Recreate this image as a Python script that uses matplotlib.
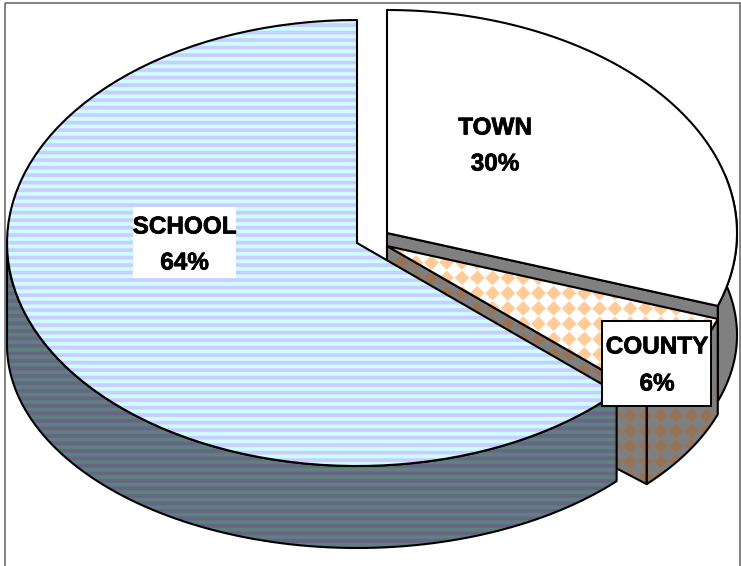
import numpy as np
import matplotlib
matplotlib.use('Agg')
import matplotlib.pyplot as plt
import matplotlib.patheffects as pe
from matplotlib.patches import Polygon, Rectangle

categories = ['SCHOOL', 'COUNTY', 'TOWN']
shares = [63.3, 6.4, 30.3]
percent_labels = ['64%', '6%', '30%']

W, H = 741, 566
RX, RY = 350, 223          # top ellipse
DROP, RY_LOW = 102, 203    # bottom ellipse, fake perspective
centers = {'SCHOOL': (357, 243), 'COUNTY': (387, 246), 'TOWN': (387, 233)}
LINE = 1.5

plt.rcParams['font.family'] = ['Liberation Sans', 'DejaVu Sans']

fig = plt.figure(figsize=(W / 100, H / 100), dpi=100)
ax = fig.add_axes([0, 0, 1, 1])
ax.set_xlim(0, W)
ax.set_ylim(H, 0)
ax.axis('off')


def top_arc(center, t0, t1):
    t = np.radians(np.linspace(t0, t1, 90))
    return np.column_stack([center[0] + RX * np.cos(t), center[1] + RY * np.sin(t)])


def low_arc(center, t0, t1):
    t = np.radians(np.linspace(t0, t1, 90))
    return np.column_stack([center[0] + RX * np.cos(t), center[1] + DROP + RY_LOW * np.sin(t)])


def stripes(c1, c2, period=7.5, phase=2.5):
    yy = np.arange(H * 4) / 4.0
    mask = np.abs(((yy - phase + period / 2) % period) - period / 2) < period / 4
    img = np.where(mask[:, None, None], np.array(c1), np.array(c2))
    return img.repeat(W, axis=1)


def diamonds(c1, c2, d=15.3, px=2.8, py=2.3, half=7.4):
    xx, yy = np.meshgrid(np.arange(W * 3) / 3.0, np.arange(H * 3) / 3.0)
    dx = np.abs(((xx - px + d / 2) % d) - d / 2)
    dy = np.abs(((yy - py + d / 2) % d) - d / 2)
    mask = dx + dy < half
    return np.where(mask[:, :, None], np.array(c1), np.array(c2))


def face(points, image=None, color=None, z=1):
    if image is not None:
        im = ax.imshow(image, extent=(0, W, H, 0), interpolation='antialiased', zorder=z, aspect='auto')
        im.set_clip_path(Polygon(points, closed=True, transform=ax.transData))
    ax.add_patch(Polygon(points, closed=True, facecolor=color if image is None else 'none',
                         edgecolor='black', linewidth=LINE, joinstyle='round', zorder=z))


def wall(center, t0, t1):
    return np.vstack([top_arc(center, t0, t1), low_arc(center, t1, t0)])


# slice boundaries, screen angle measured clockwise from 3 o'clock
school_end = (-90 - shares[0] * 3.6) % 360
town_end = -90 + shares[2] * 3.6

school_top = np.vstack([[centers['SCHOOL']], top_arc(centers['SCHOOL'], school_end, 270)])
county_top = np.vstack([[centers['COUNTY']], top_arc(centers['COUNTY'], town_end, school_end)])
town_top = np.vstack([[centers['TOWN']], top_arc(centers['TOWN'], -90, town_end)])

school_img = stripes((0.80, 0.80, 1.0), (0.80, 1.0, 1.0))
school_wall_img = stripes((0.40, 0.40, 0.52), (0.38, 0.50, 0.50), phase=0.8)
county_img = diamonds((1.0, 0.80, 0.60), (1.0, 1.0, 1.0))
county_wall_img = diamonds((0.60, 0.45, 0.33), (0.50, 0.50, 0.50), half=6.9)
GRAY = '#808080'

# back to front
c = centers['TOWN']
face(wall(c, -15, town_end), color=GRAY, z=1)
end = top_arc(c, town_end, town_end)[0]
low = low_arc(c, town_end, town_end)[0]
face(np.array([c, end, low, (c[0], c[1] + DROP)]), color=GRAY, z=1.5)

c = centers['COUNTY']
face(wall(c, town_end, school_end), image=county_wall_img, z=2)
end = top_arc(c, school_end, school_end)[0]
low = low_arc(c, school_end, school_end)[0]
face(np.array([c, end, low, (c[0], c[1] + DROP)]), image=county_wall_img, z=3)
face(county_top, image=county_img, z=4)

c = centers['SCHOOL']
face(wall(c, school_end, 180), image=school_wall_img, z=5)
face(school_top, image=school_img, z=6)
face(town_top, color='white', z=7)

# chart frame, bottom edge runs off the picture
ax.add_patch(Rectangle((5, 3), 735, H + 10, facecolor='none', edgecolor='#606060',
                       linewidth=1.1, zorder=8))

# labels
ax.add_patch(Rectangle((133, 207), 103, 71, facecolor='white', edgecolor='none', zorder=9))
ax.add_patch(Rectangle((602, 321), 109, 85, facecolor='white', edgecolor='black',
                       linewidth=1.4, zorder=9))

label_pos = {'SCHOOL': (184.5, 227, 263), 'COUNTY': (657, 347, 384), 'TOWN': (495, 128, 164)}
heavy = [pe.withStroke(linewidth=0.5, foreground='black')]
for name, pct in zip(categories, percent_labels):
    x, y1, y2 = label_pos[name]
    ax.text(x, y1, name, ha='center', va='center', fontsize=17.5, fontweight='bold', zorder=10,
            path_effects=heavy)
    ax.text(x, y2, pct, ha='center', va='center', fontsize=17.5, fontweight='bold', zorder=10,
            path_effects=heavy)

fig.savefig('out.png', dpi=100)
